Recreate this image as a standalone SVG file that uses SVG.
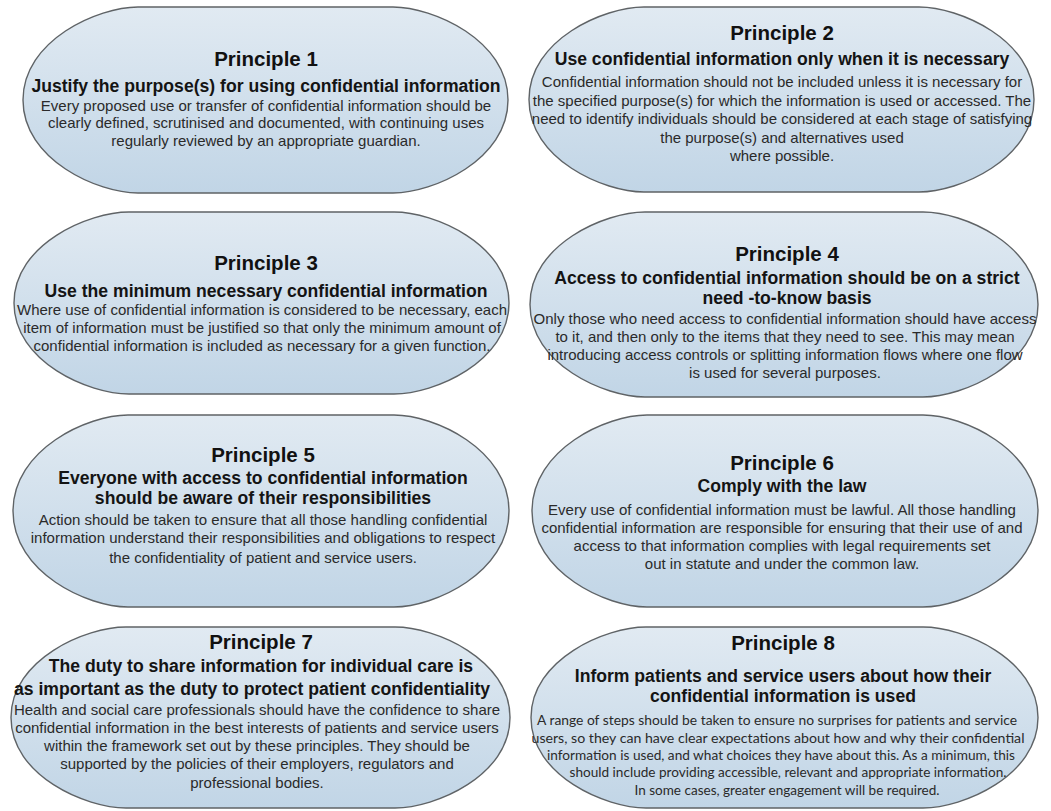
<svg xmlns="http://www.w3.org/2000/svg" width="1051" height="811" viewBox="0 0 1051 811">
<defs>
<linearGradient id="fillGrad" x1="0" y1="0" x2="0" y2="1">
<stop offset="0" stop-color="#e1eaf2"/>
<stop offset="1" stop-color="#c1d5e6"/>
</linearGradient>
<style>
.shape{fill:url(#fillGrad);stroke:#5f6366;stroke-width:1.4}
.title{font-family:"Liberation Sans",Arial,sans-serif;font-weight:bold;font-size:20.5px;fill:#111;text-anchor:middle}
.sub{font-family:"Liberation Sans",Arial,sans-serif;font-weight:bold;font-size:17.6px;fill:#141414;text-anchor:middle}
.body{font-family:"Liberation Sans",Arial,sans-serif;font-size:15px;fill:#2a2a2a;text-anchor:middle}
.body8{font-family:Lato,"Liberation Sans",sans-serif;font-size:14px;fill:#2a2a2a;text-anchor:middle}
</style>
</defs>
<rect width="1051" height="811" fill="#ffffff"/>
<g id="connectors"/>
<g id="node1">
<path class="shape" d="M138,7 H393 C433,7 508,40 508,100 C508,160 433,193 393,193 H138 C98,193 23,160 23,100 C23,40 98,7 138,7 Z"/>
<text class="title" x="266" y="65.5">Principle 1</text>
<text class="sub" x="266" y="92">Justify the purpose(s) for using confidential information</text>
<text class="body" x="266" y="110.5">Every proposed use or transfer of confidential information should be</text>
<text class="body" x="266" y="128">clearly defined, scrutinised and documented, with continuing uses</text>
<text class="body" x="266" y="145.5">regularly reviewed by an appropriate guardian.</text>
</g>
<g id="node2">
<path class="shape" d="M644,7 H919 C959,7 1034,39.5 1034,99.5 C1034,159.5 959,192 919,192 H644 C604,192 529,159.5 529,99.5 C529,39.5 604,7 644,7 Z"/>
<text class="title" x="782" y="40">Principle 2</text>
<text class="sub" x="782" y="65">Use confidential information only when it is necessary</text>
<text class="body" x="782" y="87">Confidential information should not be included unless it is necessary for</text>
<text class="body" x="782" y="105.5">the specified purpose(s) for which the information is used or accessed. The</text>
<text class="body" x="782" y="124">need to identify individuals should be considered at each stage of satisfying</text>
<text class="body" x="782" y="142.5">the purpose(s) and alternatives used</text>
<text class="body" x="782" y="161">where possible.</text>
</g>
<g id="node3">
<path class="shape" d="M129,212 H394 C434,212 509,244 509,303 C509,362 434,394 394,394 H129 C89,394 14,362 14,303 C14,244 89,212 129,212 Z"/>
<text class="title" x="266" y="269.5">Principle 3</text>
<text class="sub" x="266" y="296.5">Use the minimum necessary confidential information</text>
<text class="body" x="262" y="315">Where use of confidential information is considered to be necessary, each</text>
<text class="body" x="262" y="333">item of information must be justified so that only the minimum amount of</text>
<text class="body" x="262" y="351">confidential information is included as necessary for a given function.</text>
</g>
<g id="node4">
<path class="shape" d="M645,212 H923 C963,212 1038,244.5 1038,304.5 C1038,364.5 963,397 923,397 H645 C605,397 530,364.5 530,304.5 C530,244.5 605,212 645,212 Z"/>
<text class="title" x="787" y="261">Principle 4</text>
<text class="sub" x="787" y="284">Access to confidential information should be on a strict</text>
<text class="sub" x="787" y="304">need -to-know basis</text>
<text class="body" x="785" y="324">Only those who need access to confidential information should have access</text>
<text class="body" x="785" y="341.5">to it, and then only to the items that they need to see. This may mean</text>
<text class="body" x="785" y="359.5">introducing access controls or splitting information flows where one flow</text>
<text class="body" x="785" y="377.5">is used for several purposes.</text>
</g>
<g id="node5">
<path class="shape" d="M128,415 H394 C434,415 509,449 509,511 C509,573 434,607 394,607 H128 C88,607 13,573 13,511 C13,449 88,415 128,415 Z"/>
<text class="title" x="263" y="461.5">Principle 5</text>
<text class="sub" x="263" y="483.5">Everyone with access to confidential information</text>
<text class="sub" x="263" y="504">should be aware of their responsibilities</text>
<text class="body" x="263" y="525">Action should be taken to ensure that all those handling confidential</text>
<text class="body" x="263" y="542.5">information understand their responsibilities and obligations to respect</text>
<text class="body" x="263" y="563">the confidentiality of patient and service users.</text>
</g>
<g id="node6">
<path class="shape" d="M647,415 H923 C963,415 1038,449 1038,511 C1038,573 963,607 923,607 H647 C607,607 532,573 532,511 C532,449 607,415 647,415 Z"/>
<text class="title" x="782" y="470">Principle 6</text>
<text class="sub" x="782" y="491.5">Comply with the law</text>
<text class="body" x="782" y="514.5">Every use of confidential information must be lawful. All those handling</text>
<text class="body" x="782" y="532.5">confidential information are responsible for ensuring that their use of and</text>
<text class="body" x="782" y="550.5">access to that information complies with legal requirements set</text>
<text class="body" x="782" y="568.5">out in statute and under the common law.</text>
</g>
<g id="node7">
<path class="shape" d="M126,627 H395 C435,627 510,659 510,717.5 C510,776 435,808 395,808 H126 C86,808 11,776 11,717.5 C11,659 86,627 126,627 Z"/>
<text class="title" x="261" y="648.5">Principle 7</text>
<text class="sub" x="261" y="671.5">The duty to share information for individual care is</text>
<text class="sub" x="252" y="694.5">as important as the duty to protect patient confidentiality</text>
<text class="body" x="257" y="715">Health and social care professionals should have the confidence to share</text>
<text class="body" x="257" y="733">confidential information in the best interests of patients and service users</text>
<text class="body" x="257" y="750.5">within the framework set out by these principles. They should be</text>
<text class="body" x="257" y="768.5">supported by the policies of their employers, regulators and</text>
<text class="body" x="257" y="787.5">professional bodies.</text>
</g>
<g id="node8">
<path class="shape" d="M646,627 H923 C963,627 1038,659 1038,717.5 C1038,776 963,808 923,808 H646 C606,808 531,776 531,717.5 C531,659 606,627 646,627 Z"/>
<text class="title" x="783" y="650">Principle 8</text>
<text class="sub" x="783" y="681.5">Inform patients and service users about how their</text>
<text class="sub" x="783" y="701.5">confidential information is used</text>
<text class="body8" x="777" y="725" textLength="480" lengthAdjust="spacingAndGlyphs">A range of steps should be taken to ensure no surprises for patients and service</text>
<text class="body8" x="778" y="742.5" textLength="493" lengthAdjust="spacingAndGlyphs">users, so they can have clear expectations about how and why their confidential</text>
<text class="body8" x="781" y="759.5" textLength="468" lengthAdjust="spacingAndGlyphs">information is used, and what choices they have about this. As a minimum, this</text>
<text class="body8" x="788" y="776.5" textLength="437" lengthAdjust="spacingAndGlyphs">should include providing accessible, relevant and appropriate information.</text>
<text class="body8" x="787" y="794.5" textLength="305" lengthAdjust="spacingAndGlyphs">In some cases, greater engagement will be required.</text>
</g>
</svg>
